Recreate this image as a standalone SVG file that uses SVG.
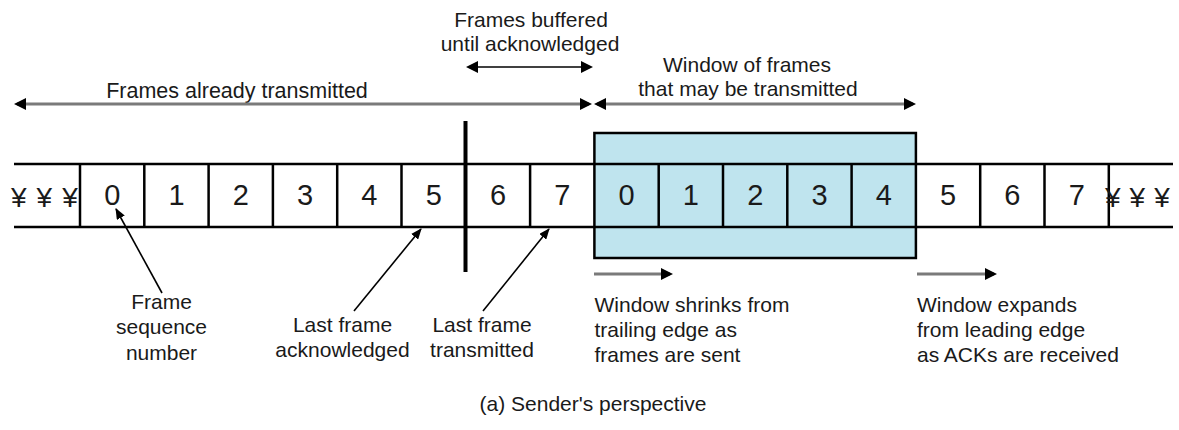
<svg xmlns="http://www.w3.org/2000/svg" width="1179" height="430" viewBox="0 0 1179 430">
<style>
text{font-family:"Liberation Sans",Arial,sans-serif;fill:#1a1a1a}
.lbl{font-size:21px}
.mid{text-anchor:middle}
.dig{font-size:29px;text-anchor:middle}
.yen{font-size:28px}
.strip{stroke:#000;stroke-width:2.5;fill:none}
.gray{stroke:#7a7a7a;stroke-width:3;fill:none}
.blk{stroke:#000;stroke-width:1.6;fill:none}
</style>
<defs>
<marker id="ah" viewBox="0 0 12 12" markerWidth="12" markerHeight="12" refX="9" refY="6" orient="auto-start-reverse" markerUnits="userSpaceOnUse">
<path d="M0,0 L12,6 L0,12 z" fill="#000"/>
</marker>
<marker id="sh" viewBox="0 0 11 9" markerWidth="11" markerHeight="9" refX="10" refY="4.5" orient="auto" markerUnits="userSpaceOnUse">
<path d="M0,0 L11,4.5 L0,9 z" fill="#000"/>
</marker>
</defs>
<rect width="1179" height="430" fill="#fff"/>

<g id="window">
<rect x="594.4" y="133" width="321.5" height="125" fill="#bfe4ee" stroke="#000" stroke-width="2.5"/>
</g>

<g id="strip">
<line class="strip" x1="14" y1="164" x2="1173" y2="164"/>
<line class="strip" x1="14" y1="227" x2="1173" y2="227"/>
<path class="strip" d="M80,164V227 M144.3,164V227 M208.6,164V227 M272.9,164V227 M337.2,164V227 M401.5,164V227 M530.1,164V227 M658.7,164V227 M723,164V227 M787.3,164V227 M851.6,164V227 M980.2,164V227 M1044.5,164V227 M1108.8,164V227"/>
<text class="yen" x="11" y="207">¥<tspan dx="10">¥</tspan><tspan dx="10">¥</tspan></text>
<text class="yen" x="1105" y="207">¥<tspan dx="9">¥</tspan><tspan dx="9">¥</tspan></text>
<text class="dig" x="112.2" y="204.5">0</text>
<text class="dig" x="176.5" y="204.5">1</text>
<text class="dig" x="240.8" y="204.5">2</text>
<text class="dig" x="305.1" y="204.5">3</text>
<text class="dig" x="369.4" y="204.5">4</text>
<text class="dig" x="433.7" y="204.5">5</text>
<text class="dig" x="498" y="204.5">6</text>
<text class="dig" x="562.3" y="204.5">7</text>
<text class="dig" x="626.6" y="204.5">0</text>
<text class="dig" x="690.9" y="204.5">1</text>
<text class="dig" x="755.2" y="204.5">2</text>
<text class="dig" x="819.5" y="204.5">3</text>
<text class="dig" x="883.8" y="204.5">4</text>
<text class="dig" x="948.1" y="204.5">5</text>
<text class="dig" x="1012.4" y="204.5">6</text>
<text class="dig" x="1076.7" y="204.5">7</text>
</g>

<g id="divider">
<rect x="463.5" y="121" width="4" height="151" fill="#000"/>
</g>

<g id="label-buffered">
<text class="lbl mid" x="531" y="27">Frames buffered</text>
<text class="lbl mid" x="530" y="51">until acknowledged</text>
</g>
<g id="label-transmitted">
<text class="mid" x="237" y="98" style="font-size:21.5px">Frames already transmitted</text>
</g>
<g id="label-window">
<text class="lbl mid" x="747" y="72">Window of frames</text>
<text class="lbl mid" x="748" y="96">that may be transmitted</text>
</g>
<g id="label-seq">
<text class="lbl mid" x="161.5" y="308.5">Frame</text>
<text class="lbl mid" x="161.5" y="334">sequence</text>
<text class="lbl mid" x="161.5" y="359.5">number</text>
</g>
<g id="label-last-ack">
<text class="lbl mid" x="342.5" y="332">Last frame</text>
<text class="lbl mid" x="342.5" y="357">acknowledged</text>
</g>
<g id="label-last-tx">
<text class="lbl mid" x="482" y="332">Last frame</text>
<text class="lbl mid" x="482" y="357">transmitted</text>
</g>
<g id="label-shrinks">
<text class="lbl" x="594.5" y="312">Window shrinks from</text>
<text class="lbl" x="594.5" y="337">trailing edge as</text>
<text class="lbl" x="594.5" y="362">frames are sent</text>
</g>
<g id="label-expands">
<text class="lbl" x="917" y="312">Window expands</text>
<text class="lbl" x="917" y="337">from leading edge</text>
<text class="lbl" x="917" y="362">as ACKs are received</text>
</g>
<g id="caption">
<text class="lbl mid" x="593" y="411">(a) Sender's perspective</text>
</g>

<g id="connectors">
<line class="blk" x1="469" y1="67" x2="590" y2="67" marker-start="url(#ah)" marker-end="url(#ah)"/>
<line class="gray" x1="17" y1="104" x2="589" y2="104" marker-start="url(#ah)" marker-end="url(#ah)"/>
<line class="gray" x1="597" y1="104" x2="913" y2="104" marker-start="url(#ah)" marker-end="url(#ah)"/>
<line class="gray" x1="594" y1="274" x2="670" y2="274" marker-end="url(#ah)"/>
<line class="gray" x1="917" y1="274" x2="994" y2="274" marker-end="url(#ah)"/>
<line class="blk" x1="162" y1="293" x2="116" y2="209" marker-end="url(#sh)"/>
<line class="blk" x1="354" y1="311" x2="421" y2="229" marker-end="url(#sh)"/>
<line class="blk" x1="483" y1="311" x2="549" y2="229" marker-end="url(#sh)"/>
</g>
</svg>
